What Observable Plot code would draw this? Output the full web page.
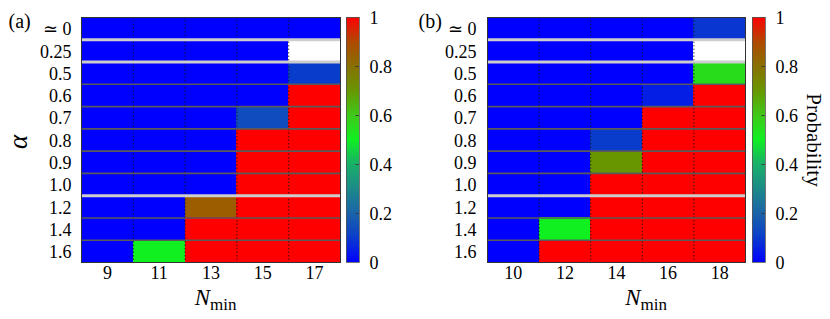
<!DOCTYPE html>
<html><head><meta charset="utf-8">
<script src="https://cdn.jsdelivr.net/npm/d3@7"></script>
<script src="https://cdn.jsdelivr.net/npm/@observablehq/plot@0.6"></script>
<style>
body{margin:0;background:#fff;}
#wrap{position:relative;width:830px;height:319px;font-family:"Liberation Serif","Times New Roman","DejaVu Serif",serif;}
#wrap > div{position:absolute;top:0;}
#wrap svg{background:transparent !important;}
#wrap svg text{font-family:"Liberation Serif","Times New Roman","DejaVu Serif",serif !important;}
</style></head><body><div id="wrap"></div>
<script>
// alpha rows (top to bottom)
const alphaLabels = ["≃ 0","0.25","0.5","0.6","0.7","0.8","0.9","1.0","1.2","1.4","1.6"];
// rows after which a light separator appears
const lightAfter = ["≃ 0","0.25","1.0"];
// N_min columns
const nminA = [9,11,13,15,17];
const nminB = [10,12,14,16,18];
// probabilities, rows = alpha, columns = N_min (null = no data / white)
const probA = [
  [0,0,0,0,0],
  [0,0,0,0,null],
  [0,0,0,0,0.1],
  [0,0,0,0,1],
  [0,0,0,0.14,1],
  [0,0,0,1,1],
  [0,0,0,1,1],
  [0,0,0,1,1],
  [0,0,0.85,1,1],
  [0,0,1,1,1],
  [0,0.5,1,1,1]
];
const probB = [
  [0,0,0,0,0.09],
  [0,0,0,0,null],
  [0,0,0,0,0.55],
  [0,0,0,0.05,1],
  [0,0,0,1,1],
  [0,0,0.1,1,1],
  [0,0,0.7,1,1],
  [0,0,1,1,1],
  [0,0,1,1,1],
  [0,0.5,1,1,1],
  [0,1,1,1,1]
];
// colour bar ticks
const cbTicks = [0,0.2,0.4,0.6,0.8,1];
// palette
const colorStops = [0,0.1,0.2,0.3,0.4,0.5,0.6,0.7,0.8,0.9,1];
const colorRange = ["#0000ff","#0a3ccc","#1a64a8","#1c8a88","#18b068","#10f020","#40c818","#689600","#887000","#b04800","#ff0000"];

const FONT = "Liberation Serif";
const TICK = 18;
const colorOpt = {type:"linear", domain: colorStops, range: colorRange, interpolate: "rgb"};

function heatmap(cfg) {
  const {nmin, prob, width, marginLeft, marginRight, tag, nDx, yPad} = cfg;
  const cells = [];
  prob.forEach((row, i) => row.forEach((v, j) => { if (v != null) cells.push({i, n: nmin[j], v}); }));
  const nRows = alphaLabels.length;
  const lightB = lightAfter.map(l => alphaLabels.indexOf(l) + 1);
  const darkB = d3.range(1, nRows).filter(b => !lightB.includes(b));
  const rowCenters = d3.range(nRows).map(i => i + 0.5);
  const marks = [
    Plot.rect(cells, {x1: d => d.n - 1, x2: d => d.n + 1, y1: "i", y2: d => d.i + 1, fill: "v", shapeRendering: "crispEdges"}),
    Plot.ruleX(nmin.slice(1).map(n => n - 1), {stroke: "#111", strokeWidth: 0.8, strokeDasharray: "1.5,2"}),
    Plot.ruleY(darkB, {stroke: "#5a5a5a", strokeWidth: 1.6}),
    Plot.ruleY(lightB, {stroke: "#cdcdcd", strokeWidth: 3}),
    Plot.frame({stroke: "#333", strokeWidth: 1}),
    // x tick labels
    Plot.text(nmin, {x: d => d, frameAnchor: "bottom", dy: 16, text: d => String(d), fontSize: TICK}),
    // y tick labels
    Plot.text(rowCenters, {y: d => d, frameAnchor: "left", dx: -yPad, dy: 1, textAnchor: "end", text: d => alphaLabels[Math.floor(d)], fontSize: TICK}),
    Plot.text([tag], {frameAnchor: "top-left", dx: -(marginLeft - 8), dy: -4, textAnchor: "start", lineAnchor: "top", fontSize: 20}),
    Plot.text(["N"], {frameAnchor: "bottom", dx: nDx, dy: 42, textAnchor: "end", fontSize: 23, fontStyle: "italic"}),
    Plot.text(["min"], {frameAnchor: "bottom", dx: nDx, dy: 47, textAnchor: "start", fontSize: 17})
  ];
  if (cfg.alpha) {
    marks.push(Plot.text(["α"], {frameAnchor: "left", dx: -(marginLeft - 18), dy: 2, textAnchor: "middle", lineAnchor: "middle", rotate: -90, fontSize: 27, fontStyle: "italic"}));
  }
  return Plot.plot({
    width, height: 319, marginLeft, marginRight, marginTop: 17, marginBottom: 57,
    style: {fontSize: TICK + "px", background: "transparent", color: "#000"},
    x: {domain: [nmin[0] - 1, nmin[nmin.length - 1] + 1], axis: null},
    y: {domain: [0, nRows], reverse: true, axis: null},
    color: colorOpt,
    marks
  });
}

function colorbar(cfg) {
  const {width, marginLeft, label} = cfg;
  const step = 0.004;
  const ramp = d3.range(0, 1, step);
  const barW = 13;
  const marks = [
    Plot.rect(ramp, {x1: 0, x2: 1, y1: d => d, y2: d => Math.min(1, d + step * 1.5), fill: d => d + step / 2, shapeRendering: "crispEdges"}),
    Plot.ruleY(cbTicks.slice(1, -1), {x1: 0.72, x2: 1, stroke: "#333", strokeWidth: 0.8}),
    Plot.frame({stroke: "#555", strokeWidth: 0.8}),
    Plot.text(cbTicks, {y: d => d, frameAnchor: "right", dx: 10, dy: 1, textAnchor: "start", text: d => String(d), fontSize: TICK})
  ];
  if (label) {
    marks.push(Plot.text([label], {frameAnchor: "right", dx: 48, textAnchor: "middle", lineAnchor: "middle", rotate: 90, fontSize: 21}));
  }
  return Plot.plot({
    width, height: 319, marginLeft, marginRight: width - marginLeft - barW, marginTop: 17, marginBottom: 57,
    style: {fontSize: TICK + "px", background: "transparent", color: "#000"},
    x: {domain: [0, 1], axis: null},
    y: {domain: [0, 1], axis: null},
    color: colorOpt,
    marks
  });
}

const wrap = document.getElementById("wrap");
function place(node, left) {
  const d = document.createElement("div");
  d.style.left = left + "px";
  d.appendChild(node);
  wrap.appendChild(d);
}
place(heatmap({nmin: nminA, prob: probA, width: 342, marginLeft: 81, marginRight: 2, tag: "(a)", nDx: -1, yPad: 10, alpha: true}), 0);
place(colorbar({width: 68, marginLeft: 4}), 342);
place(heatmap({nmin: nminB, prob: probB, width: 337, marginLeft: 77, marginRight: 2, tag: "(b)", nDx: 24, yPad: 11}), 410);
place(colorbar({width: 83, marginLeft: 5, label: "Probability"}), 747);
</script>
</body></html>
